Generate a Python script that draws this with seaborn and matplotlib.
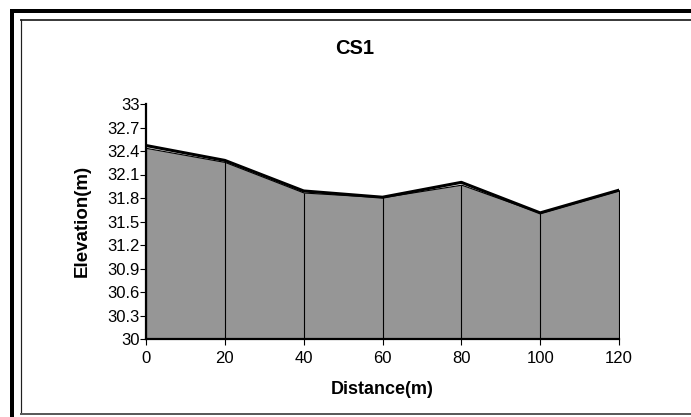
import matplotlib
matplotlib.use('Agg')
import matplotlib.pyplot as plt
import matplotlib.ticker as mticker
from matplotlib.lines import Line2D
import pandas as pd
import seaborn as sns

# ---- data ----
distance = [0, 20, 40, 60, 80, 100, 120]
elev_line = [32.47, 32.28, 31.89, 31.81, 32.00, 31.61, 31.90]   # thick black line
elev_area = [32.44, 32.26, 31.87, 31.81, 31.97, 31.61, 31.90]   # gray filled area
y_ticks = [30, 30.3, 30.6, 30.9, 31.2, 31.5, 31.8, 32.1, 32.4, 32.7, 33]
x_ticks = [0, 20, 40, 60, 80, 100, 120]

df = pd.DataFrame({'distance': distance, 'line': elev_line, 'area': elev_area})

sns.set_style('ticks')
plt.rcParams['font.family'] = ['Liberation Sans', 'DejaVu Sans']
plt.rcParams['text.color'] = 'black'

W, H = 691, 417
fig = plt.figure(figsize=(W / 100, H / 100), dpi=100)

# outer frame and inner chart-area border (in pixels)
def px_line(x0, y0, x1, y1, lw, color):
    fig.add_artist(Line2D([x0 / W, x1 / W], [1 - y0 / H, 1 - y1 / H],
                          transform=fig.transFigure, lw=lw * 72 / 100,
                          color=color, solid_capstyle='butt'))

px_line(12, 9, 12, 420, 4, 'black')
px_line(10, 11, 700, 11, 4, 'black')
px_line(20, 19.5, 700, 19.5, 2, '#3c3c3c')
px_line(20.5, 19, 20.5, 414, 1.2, '#202020')
px_line(20, 413.5, 700, 413.5, 2, '#5a5a5a')

ax = fig.add_axes([146 / W, 1 - 339 / H, 473 / W, 235 / H])

ax.fill_between(df['distance'], 30, df['area'], facecolor='#969696',
                edgecolor='black', lw=0.8, zorder=1)
ax.vlines(df['distance'][1:-1], 30, df['area'][1:-1], color='black', lw=0.8, zorder=2)
sns.lineplot(data=df, x='distance', y='line', ax=ax, color='black', lw=2.2,
             zorder=3, legend=False)

ax.set_xlim(0, 120)
ax.set_ylim(30, 33)
ax.set_xticks(x_ticks)
ax.set_yticks(y_ticks)
ax.yaxis.set_major_formatter(mticker.FuncFormatter(lambda v, p: f'{round(v, 1):g}'))
ax.tick_params(axis='both', labelsize=12, length=4, width=0.8, colors='black',
               direction='out')
ax.tick_params(axis='y', pad=0.5)
ax.tick_params(axis='x', pad=4.5)

for s in ['top', 'right']:
    ax.spines[s].set_visible(False)
for s in ['left', 'bottom']:
    ax.spines[s].set_linewidth(1.6)
    ax.spines[s].set_color('black')
    ax.spines[s].set_zorder(4)

ax.set_xlabel('')
ax.set_ylabel('')
fig.text(382.5 / W, 1 - 390 / H, 'Distance(m)', ha='center', va='center',
         fontsize=13, fontweight='bold', color='black')
fig.text(82 / W, 1 - 221 / H, 'Elevation(m)', ha='center', va='center',
         rotation=90, fontsize=13.5, fontweight='bold', color='black')
fig.text(354.5 / W, 1 - 48 / H, 'CS1', ha='center', va='center',
         fontsize=14.5, fontweight='bold', color='black')

fig.savefig('out.png', dpi=100)
